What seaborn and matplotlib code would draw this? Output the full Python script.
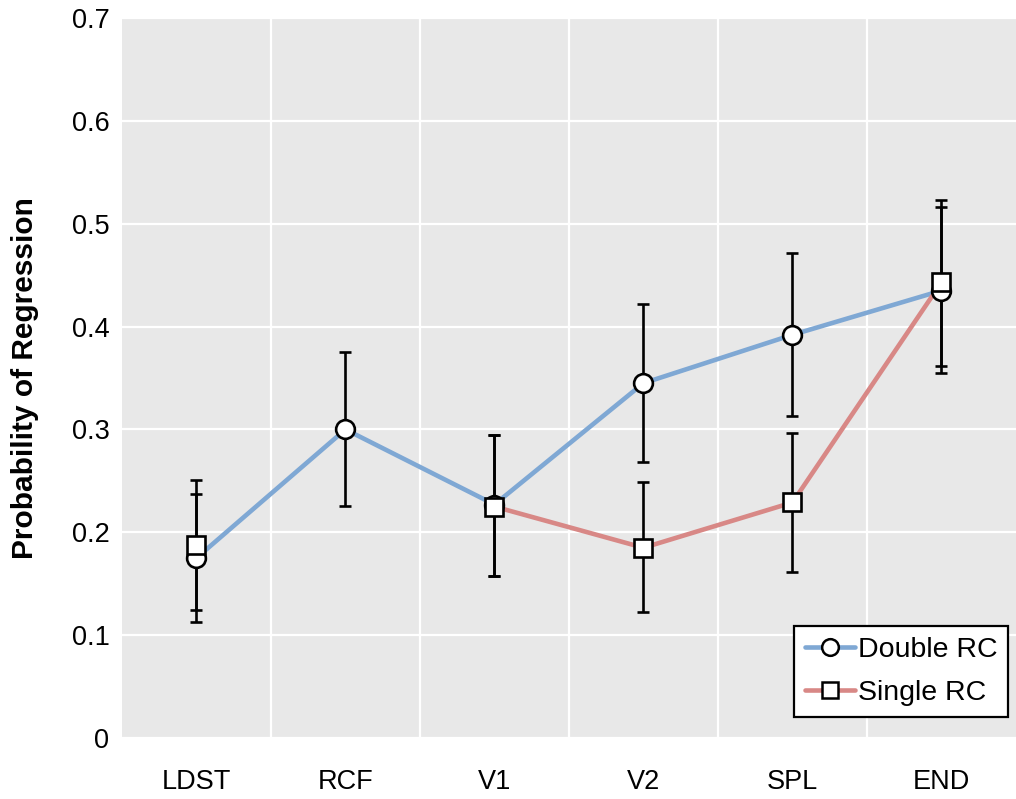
import numpy as np
import pandas as pd
import matplotlib
matplotlib.use("Agg")
import matplotlib.pyplot as plt
from matplotlib.lines import Line2D
import seaborn as sns

categories = ["LDST", "RCF", "V1", "V2", "SPL", "END"]
double_vals = [0.175, 0.300, 0.227, 0.345, 0.392, 0.435]
double_lo = [0.113, 0.226, 0.158, 0.268, 0.313, 0.355]
double_hi = [0.237, 0.375, 0.295, 0.422, 0.472, 0.516]
single_vals = [0.188, np.nan, 0.225, 0.185, 0.229, 0.443]
single_lo = [0.124, np.nan, 0.158, 0.123, 0.161, 0.362]
single_hi = [0.251, np.nan, 0.295, 0.249, 0.297, 0.523]
series_names = ["Double RC", "Single RC"]
colors = {"Double RC": "#7fa8d4", "Single RC": "#d88886"}
markers = {"Double RC": "o", "Single RC": "s"}

sns.set_theme(style="darkgrid")
plt.rcParams["font.family"] = ["Liberation Sans", "DejaVu Sans"]
plt.rcParams["text.color"] = "black"
plt.rcParams["xtick.color"] = "black"
plt.rcParams["ytick.color"] = "black"
plt.rcParams["axes.labelcolor"] = "black"

rows = []
for name, vals in zip(series_names, [double_vals, single_vals]):
    seg = 0
    for i, v in enumerate(vals):
        if np.isnan(v):
            seg += 1
            continue
        rows.append({"x": i, "y": v, "series": name, "seg": f"{name}-{seg}"})
df = pd.DataFrame(rows)

fig = plt.figure(figsize=(10.16, 7.99), dpi=100)
ax = fig.add_axes([0.120, 0.0763, 0.880, 0.9012])
ax.set_facecolor("#e8e8e8")

sns.lineplot(data=df, x="x", y="y", hue="series", units="seg", estimator=None,
             palette=colors, linewidth=3.3, legend=False, ax=ax, zorder=2)

for name, vals, lo, hi in [("Double RC", double_vals, double_lo, double_hi),
                           ("Single RC", single_vals, single_lo, single_hi)]:
    x = np.arange(len(categories))
    v = np.array(vals, dtype=float)
    yerr = np.vstack([v - np.array(lo, dtype=float), np.array(hi, dtype=float) - v])
    ax.errorbar(x, v, yerr=yerr, fmt="none", ecolor="black", elinewidth=1.9,
                capsize=4.2, capthick=1.9, zorder=3)
for name, vals in [("Double RC", double_vals), ("Single RC", single_vals)]:
    ax.plot(np.arange(len(categories)), vals, linestyle="none", marker=markers[name],
            markersize=13.5 if name == "Double RC" else 13, markerfacecolor="white",
            markeredgecolor="black", markeredgewidth=1.9, zorder=4)

ax.set_xlim(-0.5, 5.5)
ax.set_ylim(0, 0.7)
ax.set_yticks(np.arange(0, 0.71, 0.1))
ax.set_yticklabels(["0"] + [f"{t:.1f}" for t in np.arange(0.1, 0.71, 0.1)], fontsize=19.5)
ax.set_xticks(np.arange(len(categories)))
ax.set_xticklabels(categories, fontsize=19.5)
ax.set_xticks(np.arange(0.5, 5.5, 1.0), minor=True)
ax.grid(False)
ax.grid(True, which="minor", axis="x", color="white", linewidth=1.6)
ax.grid(True, which="major", axis="y", color="white", linewidth=1.6)
ax.tick_params(axis="y", which="both", length=0, pad=9)
ax.tick_params(axis="x", which="both", length=0, pad=22)
ax.set_xlabel("")
ax.set_ylabel("Probability of Regression", fontsize=21.5, fontweight="bold")
ax.yaxis.set_label_coords(-0.093, 0.5)
for s in ax.spines.values():
    s.set_visible(False)

handles = [Line2D([0], [0], color=colors[n], linewidth=3.3, marker=markers[n],
                  markersize=12, markerfacecolor="white", markeredgecolor="black",
                  markeredgewidth=1.8) for n in series_names]
leg = ax.legend(handles, series_names, loc="lower right", fontsize=20.5, frameon=True,
                fancybox=False, framealpha=1, edgecolor="black", handlelength=1.75,
                handletextpad=0.1, borderpad=0.38, labelspacing=0.62,
                borderaxespad=0, bbox_to_anchor=(0.9915, 0.029))
leg.get_frame().set_linewidth(1.6)
leg.get_frame().set_facecolor("white")

fig.savefig("out.png", dpi=100)
